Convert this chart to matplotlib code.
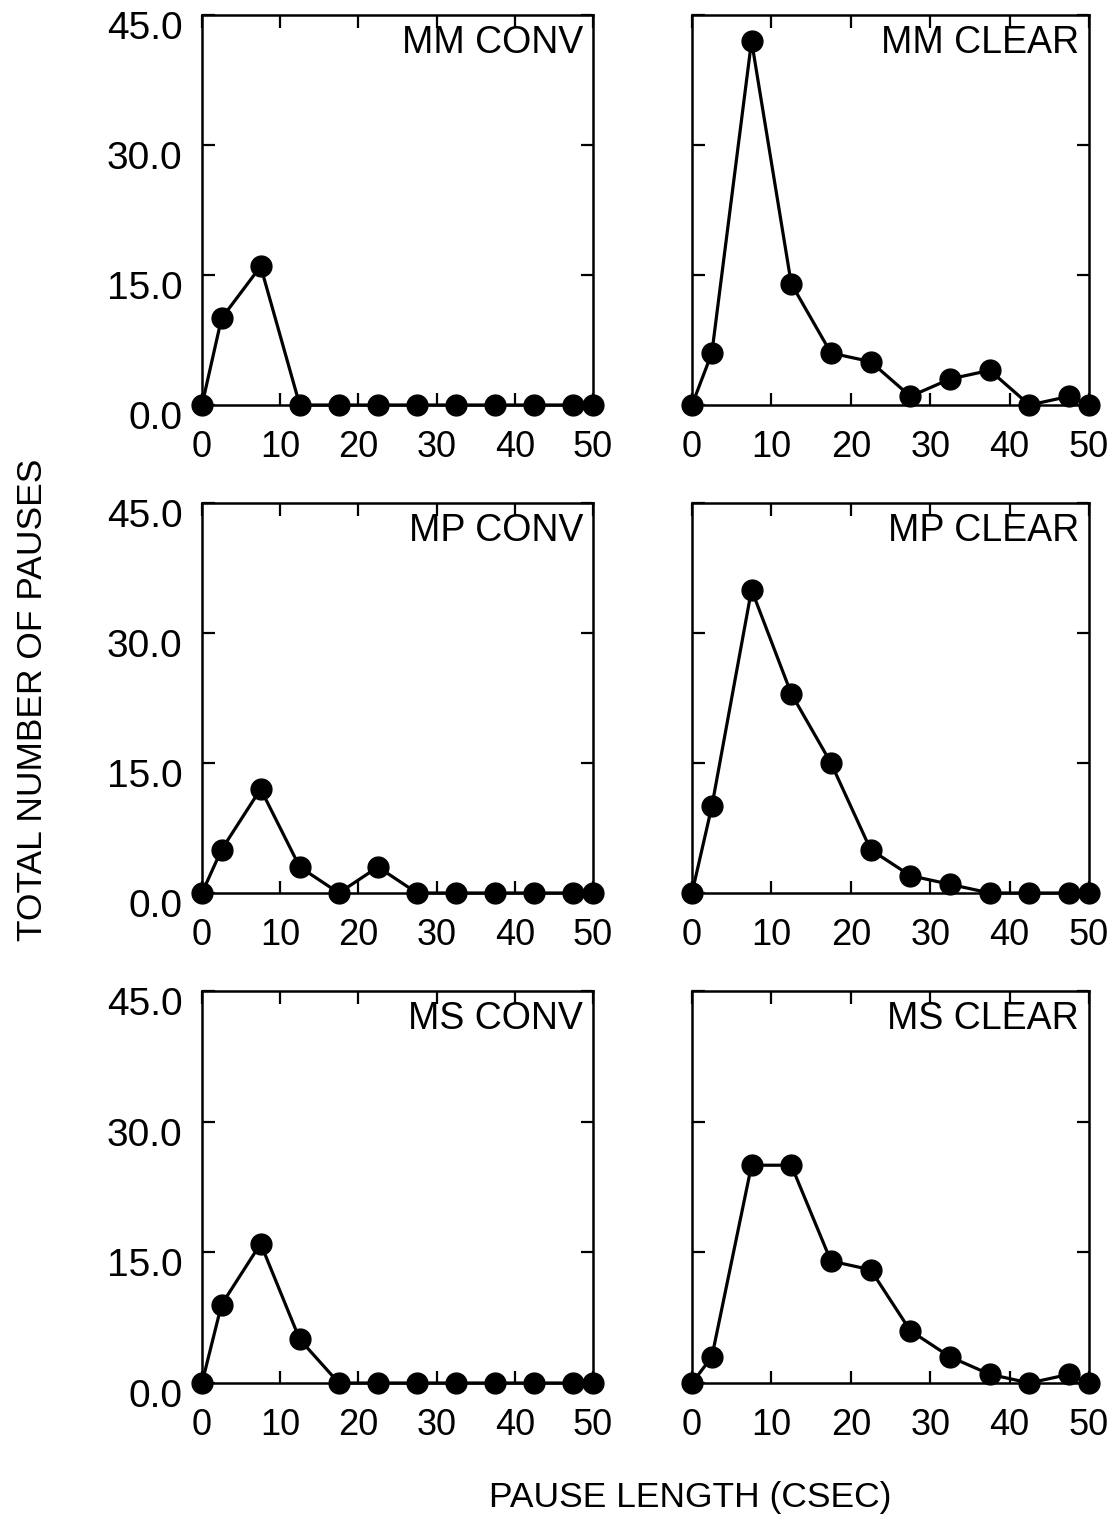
import matplotlib
matplotlib.use("Agg")
import matplotlib.pyplot as plt
from matplotlib.transforms import ScaledTranslation

plt.rcParams['font.family'] = ['Liberation Sans', 'DejaVu Sans']

# Pause-length bins (csec): end points plus bin centres
pause_length = [0, 2.5, 7.5, 12.5, 17.5, 22.5, 27.5, 32.5, 37.5, 42.5, 47.5, 50]

mm_conv = [0, 10, 16, 0, 0, 0, 0, 0, 0, 0, 0, 0]
mm_clear = [0, 6, 42, 14, 6, 5, 1, 3, 4, 0, 1, 0]
mp_conv = [0, 5, 12, 3, 0, 3, 0, 0, 0, 0, 0, 0]
mp_clear = [0, 10, 35, 23, 15, 5, 2, 1, 0, 0, 0, 0]
ms_conv = [0, 9, 16, 5, 0, 0, 0, 0, 0, 0, 0, 0]
ms_clear = [0, 3, 25, 25, 14, 13, 6, 3, 1, 0, 1, 0]

panel_titles = [["MM CONV", "MM CLEAR"],
                ["MP CONV", "MP CLEAR"],
                ["MS CONV", "MS CLEAR"]]
panel_data = [[mm_conv, mm_clear],
              [mp_conv, mp_clear],
              [ms_conv, ms_clear]]

x_ticks = [0, 10, 20, 30, 40, 50]
y_ticks = [0, 15, 30, 45]
y_tick_labels = ["0.0", "15.0", "30.0", "45.0"]

W, H = 1120, 1522
fig = plt.figure(figsize=(W / 100, H / 100), dpi=100)

col_px = [(202, 593), (692, 1089)]
row_px = [(15, 405), (503, 893), (991, 1383)]

for r in range(3):
    for c in range(2):
        x0, x1 = col_px[c]
        top, bot = row_px[r]
        ax = fig.add_axes([x0 / W, 1 - bot / H, (x1 - x0) / W, (bot - top) / H])
        ax.plot(pause_length, panel_data[r][c], color='black', lw=2.3,
                marker='o', ms=15, mfc='black', mec='black', clip_on=False,
                zorder=5)
        ax.set_xlim(0, 50)
        ax.set_ylim(0, 45)
        for s in ax.spines.values():
            s.set_linewidth(1.8)
        ax.set_xticks(x_ticks)
        ax.set_yticks(y_ticks)
        ax.tick_params(direction='in', length=9, width=1.6,
                       top=True, right=True)
        ax.tick_params(axis='x', labelsize=26, pad=18)
        ax.tick_params(axis='y', labelsize=28, pad=14)
        ax.set_xticklabels([str(v) for v in x_ticks])
        if c == 0:
            ax.set_yticklabels(y_tick_labels)
            shift = ScaledTranslation(0, -0.10, fig.dpi_scale_trans)
            for lab in ax.get_yticklabels():
                lab.set_transform(lab.get_transform() + shift)
        else:
            ax.set_yticklabels([])
        ax.text(0.975, 0.974, panel_titles[r][c], transform=ax.transAxes,
                ha='right', va='top', fontsize=27)

fig.text(33 / W, 1 - 700 / H, "TOTAL NUMBER OF PAUSES", rotation=90,
         ha='center', va='center', fontsize=25.5)
fig.text(690 / W, 1 - 1497 / H, "PAUSE LENGTH (CSEC)",
         ha='center', va='center', fontsize=25.5)

fig.savefig("out.png", dpi=100, facecolor='white')
